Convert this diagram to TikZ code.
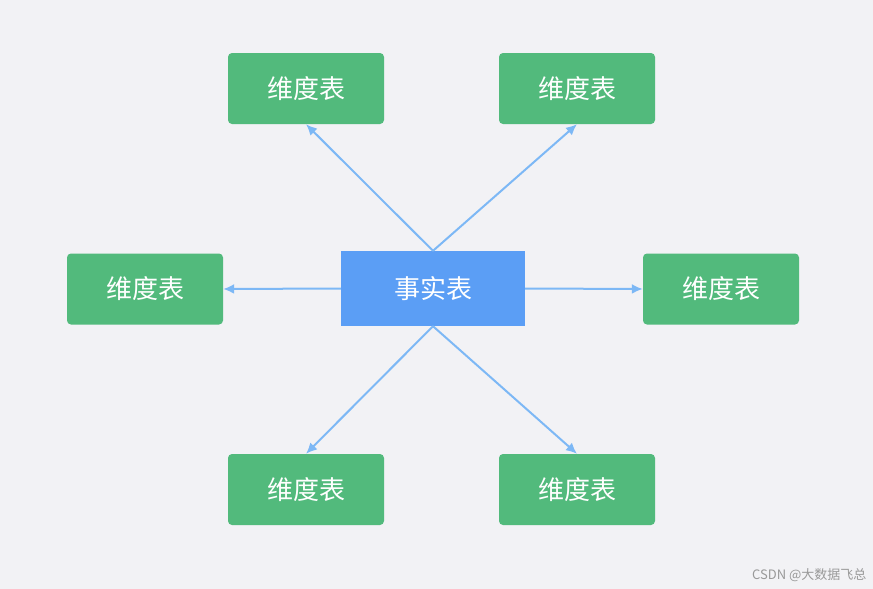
\documentclass[tikz,border=0pt]{standalone}
\usepackage{fontspec}
\setmainfont{Noto Sans CJK SC}
\usetikzlibrary{arrows.meta}
\definecolor{bg}{HTML}{F2F2F5}
\definecolor{dimg}{HTML}{52BA7C}
\definecolor{factb}{HTML}{5B9EF5}
\definecolor{arr}{HTML}{7DB8F5}
\begin{document}
\begin{tikzpicture}[x=1pt,y=-1pt,
  dim/.style={fill=dimg,rounded corners=4pt,minimum width=156pt,minimum height=71pt,text=white,font=\fontsize{26}{30}\selectfont,inner sep=0pt},
  fact/.style={fill=factb,minimum width=184pt,minimum height=75pt,text=white,font=\fontsize{26}{30}\selectfont,inner sep=0pt},
  link/.style={draw=arr,line width=2pt,-{Latex[length=11pt,width=10pt]}}]
\fill[bg] (0,0) rectangle (873,589);
\useasboundingbox (0,0) rectangle (873,589);
\node[fact] (f) at (433,288.5) {事实表};
\node[dim] (tl) at (306,88.5) {维度表};
\node[dim] (tr) at (577,88.5) {维度表};
\node[dim] (l) at (145,289) {维度表};
\node[dim] (r) at (721,289) {维度表};
\node[dim] (bl) at (306,489.5) {维度表};
\node[dim] (br) at (577,489.5) {维度表};
\draw[link] (f.north) -- (tl.south);
\draw[link] (f.north) -- (tr.south);
\draw[link] (f.south) -- (bl.north);
\draw[link] (f.south) -- (br.north);
\draw[link] (f.west) -- (l.east);
\draw[link] (f.east) -- (r.east -| r.west);
\node[text=gray!80,font=\fontsize{13}{15}\selectfont,anchor=east] (wm) at (870,575) {CSDN @大数据飞总};
\end{tikzpicture}
\end{document}
